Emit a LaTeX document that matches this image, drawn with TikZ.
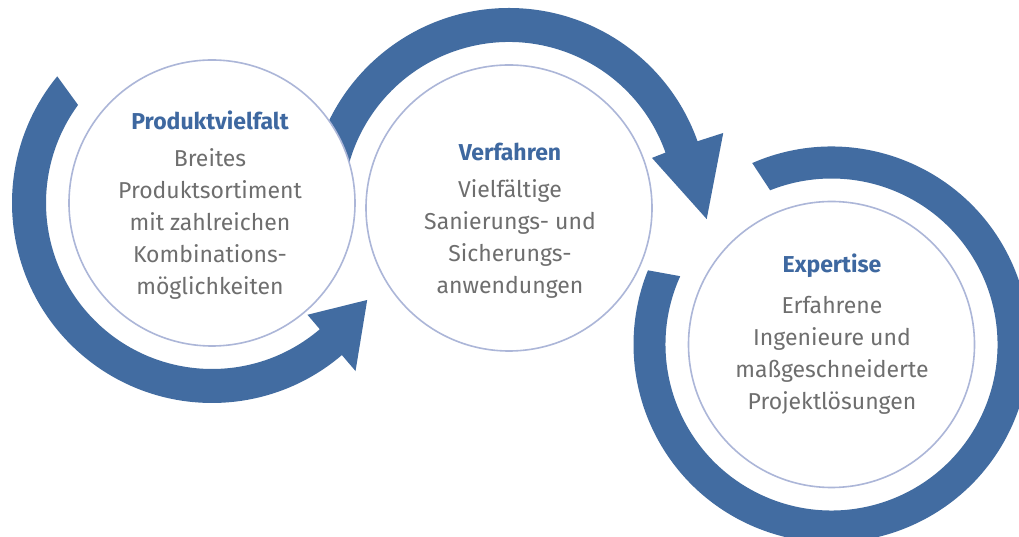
\documentclass[tikz,border=0pt]{standalone}
\usepackage{fontspec}
\setmainfont{Fira Sans}
\definecolor{arcblue}{RGB}{66,108,161}
\definecolor{ringline}{RGB}{172,182,216}
\definecolor{bodygray}{RGB}{110,110,110}
\definecolor{titleblue}{RGB}{62,104,160}
\tikzset{
  ringarc/.style={fill=arcblue},
  circ/.style={circle, draw=ringline, line width=1.6pt, fill=white, minimum size=286pt, inner sep=0pt},
  ctitle/.style={text=titleblue, font=\fontsize{23}{28}\selectfont\bfseries, inner sep=0pt},
  cbody/.style={text=bodygray, font=\fontsize{23}{32}\selectfont, align=center, inner sep=0pt}
}
\begin{document}
\begin{tikzpicture}[x=1pt,y=1pt]
\useasboundingbox (0,0) rectangle (1019,537);
\fill[white] (0,0) rectangle (1019,537);
\clip (0,0) rectangle (1019,537);
\coordinate (c1) at (212,334);
\coordinate (c2) at (509,329);
\coordinate (c3) at (831.5,192.5);
% arc 1
\begin{scope}[shift={(c1)}]
\fill[ringarc] (140.7:200) arc[start angle=140.7,end angle=310.5,radius=200]
  -- (310.5:221) -- (-32:183) -- (310.5:147) -- (310.5:166)
  arc[start angle=310.5,end angle=143.8,radius=166] -- cycle;
\end{scope}
% arc 2
\begin{scope}[shift={(c2)}]
\fill[ringarc] (180:200) arc[start angle=180,end angle=19.5,radius=200]
  -- (19.3:227) -- (-3.2:198) -- (19.3:151.5) -- (19.5:166)
  arc[start angle=19.5,end angle=180,radius=166] -- cycle;
\end{scope}
% arc 3
\begin{scope}[shift={(c3)}]
\fill[ringarc] (113.6:198) arc[start angle=113.6,end angle=-202,radius=198]
  -- (-204.3:166) arc[start angle=-204.3,end angle=111.7,radius=166] -- cycle;
\end{scope}
% circles
\node[circ] (n1) at (c1) {};
\node[circ] (n2) at (c2) {};
\node[circ] (n3) at (c3) {};
% texts
\node[ctitle] (t1) at (210,417) {Produktvielfalt};
\node[cbody] (b1) at (210,313) {Breites\\Produktsortiment\\mit zahlreichen\\Kombinations-\\möglichkeiten};
\node[ctitle] (t2) at (510,385) {Verfahren};
\node[cbody] (b2) at (510,298.5) {Vielfältige\\Sanierungs- und\\Sicherungs-\\anwendungen};
\node[ctitle] (t3) at (832,271) {Expertise};
\node[cbody] (b3) at (832,182) {Erfahrene\\Ingenieure und\\maßgeschneiderte\\Projektlösungen};
\end{tikzpicture}
\end{document}
